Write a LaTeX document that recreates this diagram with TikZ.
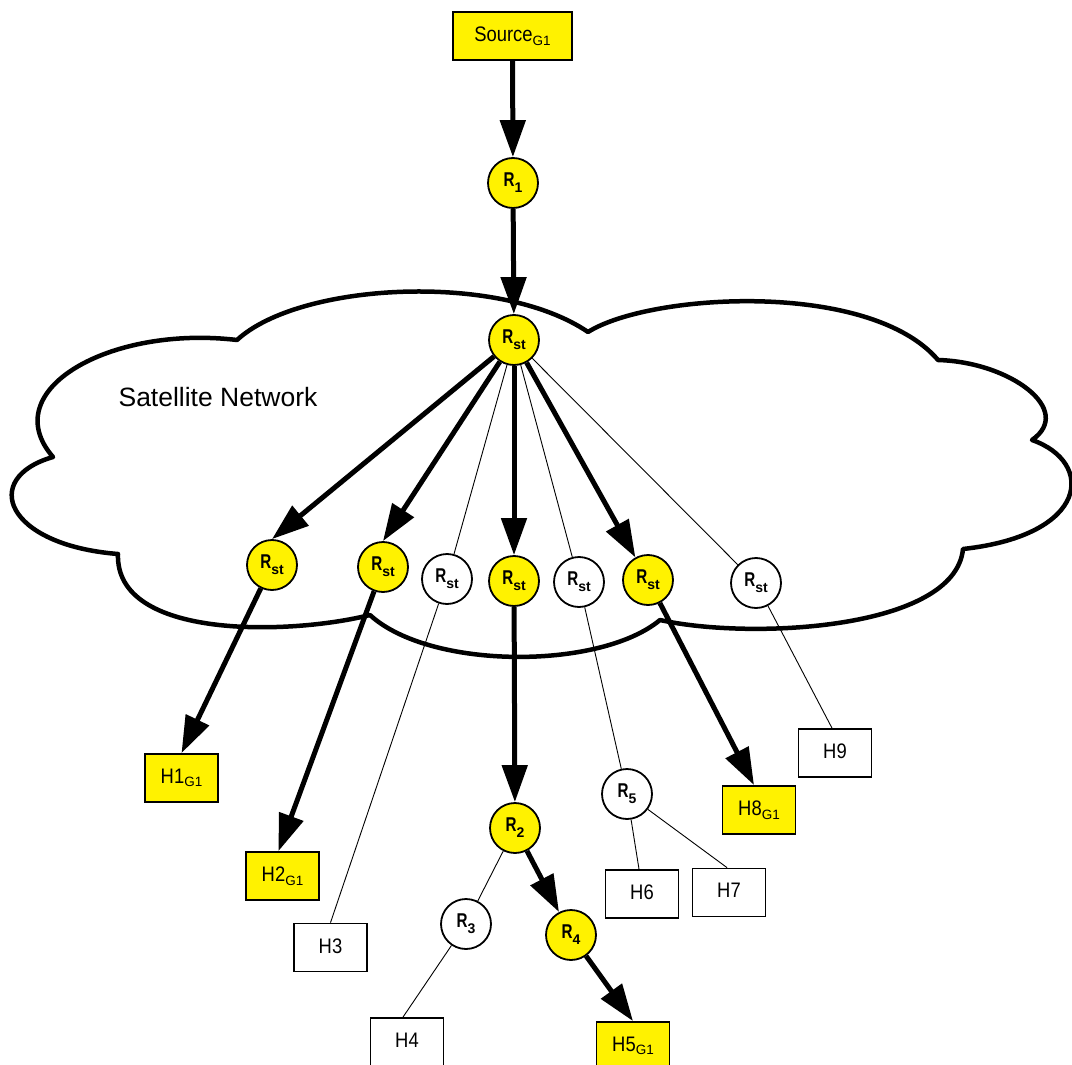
\documentclass[tikz,border=0pt]{standalone}
\usepackage{fontspec}
\setmainfont{Liberation Sans}
\usetikzlibrary{arrows.meta}

% router label: narrow bold letter with a lowered index
\newcommand{\rlab}[1]{\scalebox{0.8}[1.05]{R}\raisebox{-6pt}{\fontsize{14}{14}\selectfont #1}}
% host label: name with an optional lowered group index
\newcommand{\hlab}[2]{\scalebox{0.92}[1.05]{#1}\raisebox{-3.5pt}{\fontsize{13.5}{14}\selectfont #2}}

\tikzset{
  hostbox/.style={draw, line width=1.8pt, minimum width=73pt, minimum height=48pt,
                  inner sep=0pt, font=\fontsize{20}{22}\selectfont},
  member/.style={fill=yellow},
  router/.style={circle, draw, line width=1.8pt, minimum size=50pt, inner sep=0pt,
                 font=\bfseries\fontsize{19}{20}\selectfont},
  flow/.style={line width=5pt, -{Triangle[length=37pt,width=25pt]}},
  plain/.style={line width=0.9pt},
  cloudline/.style={line width=4.5pt, line join=round},
}

\begin{document}
\begin{tikzpicture}[x=1pt, y=-1pt]
\useasboundingbox (0,0) rectangle (1072,1065);

% satellite network cloud
\draw[cloudline] (237,340)
  .. controls (300,282) and (500,272) .. (588,332)
  .. controls (650,293) and (870,280) .. (938,360)
  .. controls (1010,362) and (1075,410) .. (1032,440)
  .. controls (1095,462) and (1090,535) .. (963,549)
  .. controls (955,630) and (750,640) .. (660,620)
  .. controls (600,670) and (430,670) .. (370,615)
  .. controls (290,635) and (115,640) .. (118,554)
  .. controls (5,545) and (-20,478) .. (53,457)
  .. controls (-5,390) and (110,325) .. (237,340) -- cycle;
\node[font=\fontsize{26.5}{28}\selectfont] (satlabel) at (218,397) {Satellite Network};

% source and first routers
\node[hostbox, member, minimum width=119pt] (src) at (512.5,36) {\hlab{Source}{G1}};
\node[router, member] (r1) at (513,183) {\rlab{1}};
\node[router, member] (rs) at (514,340) {\rlab{st}};

% satellite terminals
\node[router, member] (s1) at (272,565) {\rlab{st}};
\node[router, member] (s2) at (383,567) {\rlab{st}};
\node[router, fill=white] (s3) at (447,579) {\rlab{st}};
\node[router, member] (s4) at (514,581) {\rlab{st}};
\node[router, fill=white] (s5) at (579,582) {\rlab{st}};
\node[router, member] (s6) at (648,580) {\rlab{st}};
\node[router, fill=white] (s7) at (756,583) {\rlab{st}};

% terrestrial routers
\node[router, member] (r2) at (515,828) {\rlab{2}};
\node[router, fill=white] (r3) at (466,924) {\rlab{3}};
\node[router, member] (r4) at (571,935) {\rlab{4}};
\node[router, fill=white] (r5) at (627,794) {\rlab{5}};

% hosts
\node[hostbox, member] (h1) at (181.5,778) {\hlab{H1}{G1}};
\node[hostbox, member] (h2) at (282.5,876) {\hlab{H2}{G1}};
\node[hostbox, fill=white] (h3) at (330.5,947.5) {\hlab{H3}{}};
\node[hostbox, fill=white] (h4) at (407,1042) {\hlab{H4}{}};
\node[hostbox, member] (h5) at (633,1046) {\hlab{H5}{G1}};
\node[hostbox, fill=white] (h6) at (642,894) {\hlab{H6}{}};
\node[hostbox, fill=white] (h7) at (729,892.5) {\hlab{H7}{}};
\node[hostbox, member] (h8) at (759,810) {\hlab{H8}{G1}};
\node[hostbox, fill=white] (h9) at (835,753) {\hlab{H9}{}};

% multicast tree
\draw[flow] (src) -- (r1);
\draw[flow] (r1) -- (rs);
\draw[flow] (rs) -- (s1.north);
\draw[flow] (rs) -- (s2.north);
\draw[plain] (rs) -- (s3);
\draw[flow] (rs) -- (s4);
\draw[plain] (rs) -- (s5);
\draw[flow] (rs) -- (s6);
\draw[plain] (rs) -- (s7);

\draw[flow] (s1) -- (h1.north);
\draw[flow] (s2) -- ([xshift=-4pt]h2.north);
\draw[plain] (s3) -- (h3.north);
\draw[flow] (s4) -- (r2);
\draw[plain] (s5) -- (r5);
\draw[flow] (s6) -- ([xshift=-5pt]h8.north);
\draw[plain] (s7) -- ([xshift=-3pt]h9.north);

\draw[plain] (r2) -- (r3);
\draw[flow] (r2) -- (r4);
\draw[plain] (r3) -- ([xshift=-4pt]h4.north);
\draw[flow] (r4) -- (h5.north);
\draw[plain] (r5) -- ([xshift=-3pt]h6.north);
\draw[plain] (r5) -- ([xshift=-2pt]h7.north);
\end{tikzpicture}
\end{document}
